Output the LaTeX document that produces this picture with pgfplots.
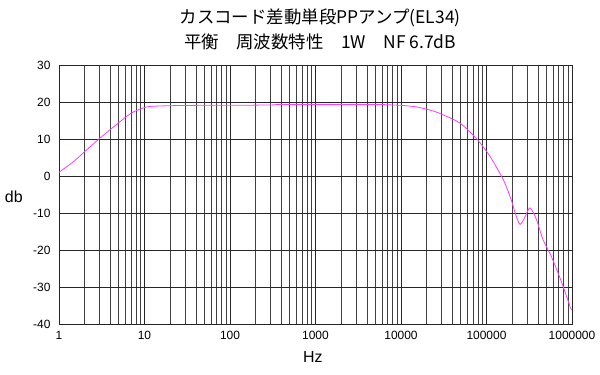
\documentclass[border=0pt]{standalone}
\usepackage{fontspec}
\setmainfont{Liberation Sans}
\newfontfamily\jp{Noto Sans CJK JP}
\usepackage{pgfplots}
\pgfplotsset{compat=1.18}
\definecolor{curve}{RGB}{255,60,255}
\begin{document}
\begin{tikzpicture}
\begin{axis}[
  xmode=log, log basis x=10,
  scale only axis, width=513bp, height=259bp,
  xmin=1, xmax=1000000, ymin=-40, ymax=30,
  ytick={-40,-30,...,30},
  xtick={1,10,100,1000,10000,100000,1000000},
  xticklabels={1,10,100,1000,10000,100000,1000000},
  minor xtick={2,3,4,5,6,7,8,9,20,30,40,50,60,70,80,90,200,300,400,500,600,700,800,900,2000,3000,4000,5000,6000,7000,8000,9000,20000,30000,40000,50000,60000,70000,80000,90000,200000,300000,400000,500000,600000,700000,800000,900000},
  grid=both,
  major grid style={black!85, line width=0.6bp},
  minor grid style={black!75, line width=0.6bp},
  axis line style={black!85, line width=0.6bp},
  major tick length=0pt, minor tick length=0pt,
  tick label style={font=\fontsize{12}{14}\selectfont},
  /pgf/number format/assume math mode=true,
  yticklabel style={xshift=-5bp},
  xticklabel style={yshift=-4bp},
  xlabel={Hz}, ylabel={db},
  label style={font=\fontsize{16}{18}\selectfont},
  xlabel style={at={(axis description cs:0.495,-0.127)}, anchor=center},
  ylabel style={rotate=-90, at={(axis description cs:-0.088,0.49)}, anchor=center},
  clip=false,
]
\addplot[curve, line width=0.8bp, smooth, tension=0.4] coordinates {
(1,1.0) (1.5,4.0) (2,6.6) (3,10.2) (4,12.6) (5,14.4) (6,15.9) (7.4,17.3) (9.7,18.4) (11.6,18.8) (20,19.0) (45,19.1) (100,19.1) (300,19.2) (400,19.35) (2000,19.35) (5200,19.35) (7000,19.25) (10000,19.1) (15000,18.7) (22000,17.8) (30000,16.7) (49000,14.3) (77000,10.0) (110000,5.3) (158000,-1.1) (195000,-6.5) (220000,-10.5) (247000,-13.1) (280000,-11.2) (322000,-8.6) (380000,-11.5) (460000,-17.3) (575000,-21.8) (750000,-28.5) (950000,-35.3) (1000000,-36.2)
};
\node[font=\jp\fontsize{17.5}{19}\selectfont] at (axis description cs:0.509,1.181) {カスコード差動単段PPアンプ(EL34)};
\node[font=\jp\fontsize{17.5}{19}\selectfont] at (axis description cs:0.509,1.089) {平衡　周波数特性　1W　NF 6.7dB};
\end{axis}
\pgfresetboundingbox
\path (current axis.south west) ++(-59bp,-51bp) coordinate (bl);
\path (current axis.north east) ++(28bp,65bp) coordinate (tr);
\path (bl) rectangle (tr);
\end{tikzpicture}
\end{document}
